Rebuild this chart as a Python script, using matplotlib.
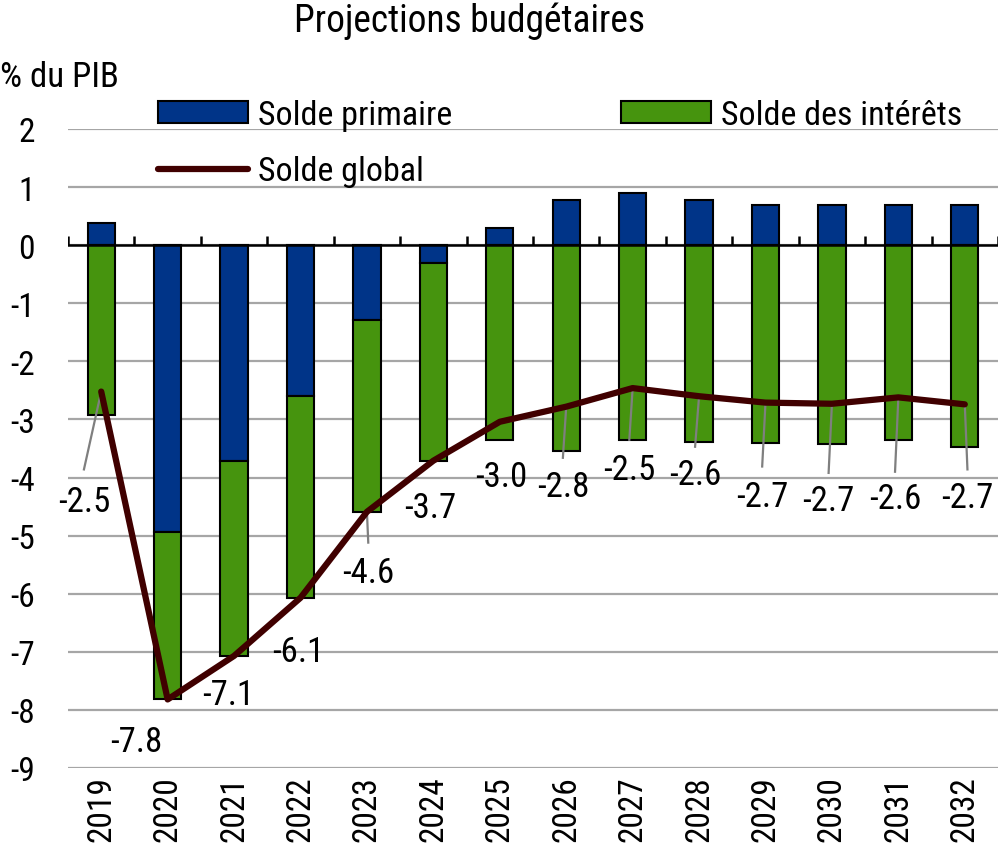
import numpy as np
import matplotlib
matplotlib.use('Agg')
import matplotlib.pyplot as plt
from matplotlib.patches import Patch
from matplotlib.lines import Line2D

plt.rcParams['font.family'] = ['Roboto Condensed', 'Liberation Sans', 'DejaVu Sans']

# données
years = ['2019', '2020', '2021', '2022', '2023', '2024', '2025',
         '2026', '2027', '2028', '2029', '2030', '2031', '2032']
solde_primaire = [0.39, -4.93, -3.71, -2.6, -1.28, -0.3, 0.29,
                  0.77, 0.89, 0.78, 0.69, 0.7, 0.7, 0.7]
solde_interets = [-2.92, -2.89, -3.36, -3.47, -3.31, -3.41, -3.35,
                  -3.55, -3.36, -3.38, -3.4, -3.43, -3.35, -3.47]
solde_global = [-2.52, -7.82, -7.07, -6.07, -4.59, -3.71, -3.04,
                -2.78, -2.46, -2.6, -2.71, -2.73, -2.62, -2.74]

# position des étiquettes (décalage x, y) et fin du trait de rappel
lab_dx = [-0.26, -0.48, -0.09, -0.04, 0.02, -0.05, 0.02,
          -0.05, -0.05, -0.06, -0.05, -0.05, -0.05, 0.04]
lab_y = [-4.42, -8.55, -7.74, -7.0, -5.64, -4.52, -3.98,
         -4.16, -3.86, -3.95, -4.33, -4.4, -4.36, -4.35]
lead_end = [-3.86, None, None, None, -5.12, None, None,
            -3.66, -3.35, -3.47, -3.81, -3.92, -3.9, -3.86]

BLUE = '#003488'
GREEN = '#46940E'
LINE = '#400000'
GRID = '#A6A6A6'

fig = plt.figure(figsize=(10, 8.45), dpi=100)
ax = fig.add_axes([0.068, 1 - 769 / 845, 0.93, (769 - 130) / 845])

x = np.arange(len(years))
prim = np.array(solde_primaire)
inte = np.array(solde_interets)
width = 0.41

ax.bar(x, prim, width, color=BLUE, edgecolor='black', linewidth=1.5, zorder=3)
ax.bar(x, inte, width, bottom=np.minimum(prim, 0), color=GREEN,
       edgecolor='black', linewidth=1.5, zorder=3)

# traits de rappel
for i, v in enumerate(solde_global):
    if lead_end[i] is not None:
        ax.plot([i, i + lab_dx[i]], [v, lead_end[i]], color='#7F7F7F', lw=1.6, zorder=4)

ax.plot(x, solde_global, color=LINE, lw=4.5, zorder=5, solid_capstyle='round')

for i, v in enumerate(solde_global):
    ax.text(i + lab_dx[i], lab_y[i], f'{v:.1f}', ha='center', va='center',
            fontsize=25, zorder=6)

# axe zéro et petites graduations
ax.axhline(0, color='black', lw=1.8, zorder=4)
bounds = np.arange(len(years) + 1) - 0.5
ax.vlines(bounds, 0, 0.15, color='black', lw=1.8, zorder=4)

ax.set_xlim(-0.5, len(years) - 0.5)
ax.set_ylim(-9, 2)
ax.set_yticks(np.arange(-9, 3))
ax.set_yticklabels([str(t) for t in range(-9, 3)])
ax.yaxis.grid(True, color=GRID, lw=1.6)
ax.set_axisbelow(True)
ax.set_xticks(x)
ax.set_xticklabels(years, rotation=90)
ax.tick_params(axis='both', length=0, labelsize=24)
ax.tick_params(axis='y', pad=24)
ax.tick_params(axis='x', pad=5)
for s in ax.spines.values():
    s.set_visible(False)

fig.text(0.47, 1 - 32 / 845, 'Projections budgétaires', ha='center',
         va='baseline', fontsize=27)
fig.text(0.0, 1 - 87 / 845, '% du PIB', ha='left', va='baseline', fontsize=25)

h_prim = Patch(facecolor=BLUE, edgecolor='black', linewidth=1.5)
h_int = Patch(facecolor=GREEN, edgecolor='black', linewidth=1.5)
h_glob = Line2D([], [], color=LINE, lw=4.5, solid_capstyle='round')

leg_kw = dict(loc='upper left', frameon=False, fontsize=24.5, borderpad=0,
              borderaxespad=0, handlelength=2.65, handleheight=0.6,
              handletextpad=0.3, labelspacing=0.72, bbox_transform=fig.transFigure)
leg1 = ax.legend([h_prim, h_glob], ['Solde primaire', 'Solde global'],
                 bbox_to_anchor=(0.158, 1 - 100 / 845), **leg_kw)
ax.add_artist(leg1)
ax.legend([h_int], ['Solde des intérêts'],
          bbox_to_anchor=(0.621, 1 - 100 / 845), **leg_kw)

fig.savefig('out.png', dpi=100)
